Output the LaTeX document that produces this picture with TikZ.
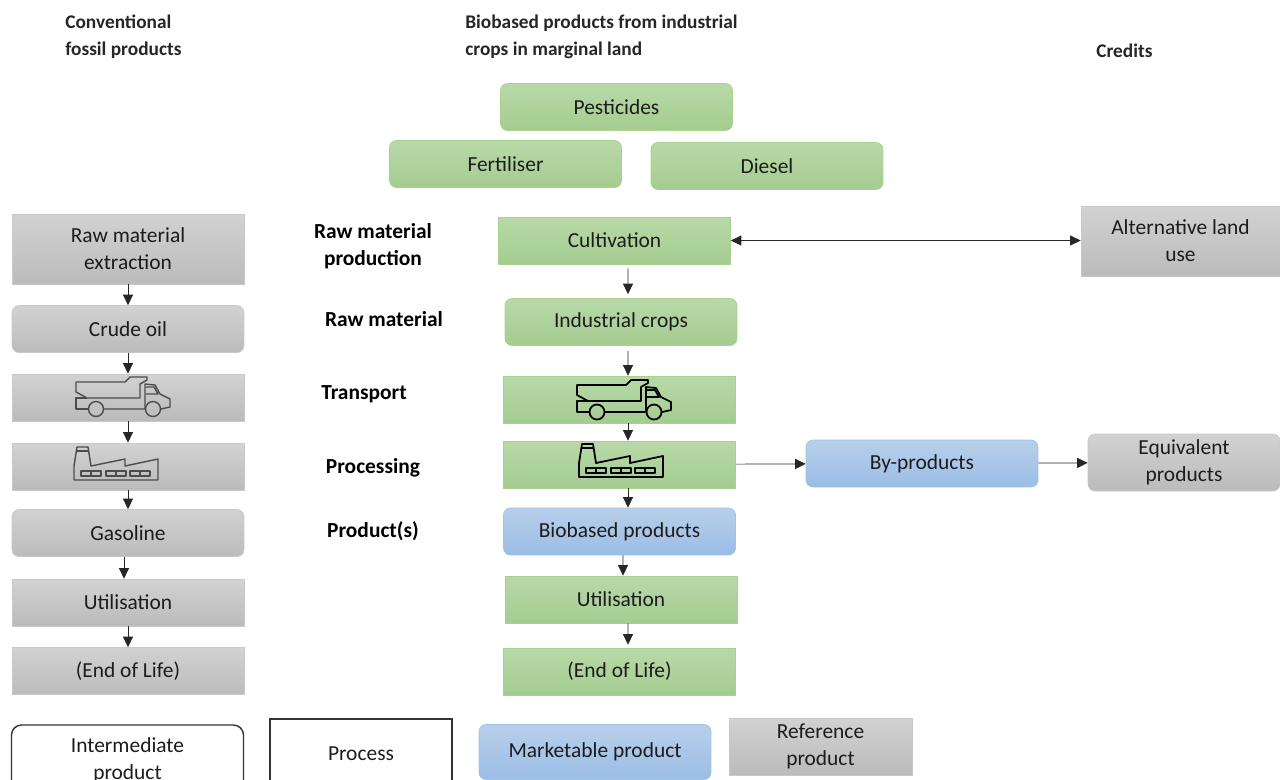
\documentclass[tikz,border=0pt]{standalone}
\usepackage{fontspec}
\setmainfont{Carlito}
\usetikzlibrary{arrows.meta}
\definecolor{greenTop}{HTML}{B8D9A8}
\definecolor{greenBottom}{HTML}{A4CC90}
\definecolor{greenLine}{HTML}{A9D18E}
\definecolor{greyTop}{HTML}{D2D2D2}
\definecolor{greyBottom}{HTML}{BBBBBB}
\definecolor{greyLine}{HTML}{C8C8C8}
\definecolor{blueTop}{HTML}{B8CFEA}
\definecolor{blueBottom}{HTML}{9BBDE6}
\definecolor{blueLine}{HTML}{9DC3E6}
\definecolor{textColor}{HTML}{1C1C1C}
\tikzstyle{diagram} = [x = .02cm, y = -.02cm]
\tikzstyle{stageBox} = [text=textColor, font=\fontsize{12.2}{15.5}\selectfont, align=center, inner sep=0pt, minimum width=4.64cm, minimum height=.94cm]
\tikzstyle{greenBox} = [stageBox, draw=greenLine, top color=greenTop, bottom color=greenBottom]
\tikzstyle{greenRound} = [greenBox, rounded corners=.14cm]
\tikzstyle{greyBox} = [stageBox, draw=greyLine, top color=greyTop, bottom color=greyBottom]
\tikzstyle{greyRound} = [greyBox, rounded corners=.14cm]
\tikzstyle{blueRound} = [stageBox, draw=blueLine, top color=blueTop, bottom color=blueBottom, rounded corners=.14cm]
\tikzstyle{plainBox} = [stageBox, draw=black!80, thick, fill=white]
\tikzstyle{stageLabel} = [text=black, font=\fontsize{12.2}{15.5}\selectfont\bfseries, align=center, inner sep=0pt]
\tikzstyle{headLabel} = [text=black!85, font=\fontsize{11}{15.5}\selectfont\bfseries\scshape, align=left, anchor=west, inner sep=0pt]
\tikzstyle{flowArrow} = [draw=black!85, -{Triangle[length=.21cm,width=.2cm]}]
\newcommand{\truckIcon}[4]{
  \begin{scope}[shift={(#1,#2)}, draw=#3, line width=#4, line join=round]
    \draw (0,5) -- (49,5) -- (54,0) -- (71,0) -- (71,3) -- (64,7) -- (64,21) -- (11,21) -- (0,15) -- cycle;
    \draw (11,21) -- (0,21) -- (0,32) -- (12,32);
    \draw (28,32) -- (69,32) -- (69,7) -- (79,8) -- (84,17) -- (94,22) -- (94,30) -- (85,32);
    \draw (70,10) -- (78,10) -- (82,17) -- (70,17);
    \draw (20,32) circle [radius=.15cm];
    \draw (77,32) circle [radius=.15cm];
  \end{scope}
}
\newcommand{\factoryIcon}[4]{
  \begin{scope}[shift={(#1,#2)}, draw=#3, line width=#4, line join=round]
    \draw (1,33) -- (1,19) -- (4,0) -- (15,0) -- (18,19) -- (52,12) -- (52,19) -- (85,12) -- (85,33) -- cycle;
    \draw (3.5,4) -- (15.5,4);
    \foreach \window in {8,33,57} {
      \draw (\window,24) rectangle +(20,5);
      \draw (\window + 10,24) -- +(0,5);
    }
  \end{scope}
}
\begin{document}
\begin{tikzpicture}[diagram]
    \clip (0,0) rectangle (1280,779);
    % headings
    \node [headLabel] (headFossil) at (65,37) {Conventional\\fossil products};
    \node [headLabel] (headBio) at (465,37) {Biobased products from industrial\\crops in marginal land};
    \node [headLabel] (headCredits) at (1096,51) {Credits};
    % fossil column
    \node [greyBox, minimum height=1.4cm] (fossilRaw) at (128,249) {Raw material\\extraction};
    \node [greyRound] (fossilCrude) at (128,329) {Crude oil};
    \node [greyBox] (fossilTruck) at (128,397.5) {};
    \node [greyBox] (fossilPlant) at (128,466.5) {};
    \node [greyRound] (fossilGasoline) at (128,533) {Gasoline};
    \node [greyBox] (fossilUse) at (128,602.5) {Utilisation};
    \node [greyBox] (fossilEnd) at (128,671) {(End of Life)};
    \truckIcon{76}{377}{black!70}{.8pt}
    \factoryIcon{73}{447}{black!70}{.8pt}
    % stage labels
    \node [stageLabel] (labelProduction) at (373,246) {Raw material\\production};
    \node [stageLabel] (labelRaw) at (384,319) {Raw material};
    \node [stageLabel] (labelTransport) at (364,394) {Transport};
    \node [stageLabel] (labelProcessing) at (373,468) {Processing};
    \node [stageLabel] (labelProduct) at (373,531) {Product(s)};
    % biobased column
    \node [greenRound] (pesticides) at (616.5,107) {Pesticides};
    \node [greenRound] (fertiliser) at (505.5,164) {Fertiliser};
    \node [greenRound] (diesel) at (767,166) {Diesel};
    \node [greenBox] (cultivation) at (614.5,240.5) {Cultivation};
    \node [greenRound] (crops) at (621,322) {Industrial crops};
    \node [greenBox] (bioTruck) at (619.5,399.5) {};
    \node [greenBox] (bioPlant) at (619.5,464.5) {};
    \node [blueRound] (bioProducts) at (619.5,531.5) {Biobased products};
    \node [greenBox] (bioUse) at (621,599.5) {Utilisation};
    \node [greenBox] (bioEnd) at (619.5,671.5) {(End of Life)};
    \truckIcon{577}{380}{black}{1pt}
    \factoryIcon{578}{444}{black}{1pt}
    % credits
    \node [greyBox, minimum width=3.98cm, minimum height=1.4cm] (altLand) at (1180.5,241) {Alternative land\\use};
    \node [blueRound] (byProducts) at (922,463.5) {By-products};
    \node [greyRound, minimum width=3.84cm, minimum height=1.14cm] (equivalent) at (1184,462.5) {Equivalent\\products};
    % legend
    \node [plainBox, rounded corners=.2cm, minimum height=1.4cm] (legendIntermediate) at (127.5,760) {\raisebox{0pt}{Intermediate}\\product};
    \node [plainBox, minimum width=3.64cm, minimum height=1.4cm] (legendProcess) at (361,754) {\raisebox{0pt}{Process}};
    \node [blueRound, minimum height=1.1cm] (legendMarketable) at (595,752) {Marketable product};
    \node [greyBox, minimum width=3.66cm, minimum height=1.14cm] (legendReference) at (820.5,746.5) {Reference\\product};
    % arrows
    \foreach \upper/\lower in {fossilRaw/fossilCrude, fossilCrude/fossilTruck, fossilTruck/fossilPlant, fossilPlant/fossilGasoline, fossilUse/fossilEnd} {
      \draw [flowArrow] (\upper) -- (\lower);
    }
    \draw [flowArrow] ([xshift=-.08cm]fossilGasoline.south) -- ([xshift=-.08cm]fossilUse.north);
    \draw [flowArrow, shorten <=.08cm, shorten >=.08cm] (cultivation.south -| bioPlant.south) ++(.17cm,0) -- ([xshift=.14cm]crops.north);
    \draw [flowArrow, shorten <=.1cm] ([xshift=.14cm]crops.south) -- ([xshift=.17cm]bioTruck.north);
    \draw [flowArrow] ([xshift=.17cm]bioTruck.south) -- ([xshift=.17cm]bioPlant.north);
    \draw [flowArrow] ([xshift=.17cm]bioPlant.south) -- ([xshift=.17cm]bioProducts.north);
    \draw [flowArrow] ([xshift=.07cm]bioProducts.south) -- ([xshift=.04cm]bioUse.north);
    \draw [flowArrow, shorten >=.06cm] ([xshift=.14cm]bioUse.south) -- ([xshift=.17cm]bioEnd.north);
    \draw [flowArrow, {Triangle[length=.21cm,width=.2cm]}-{Triangle[length=.21cm,width=.2cm]}] (cultivation) -- (cultivation -| altLand.west);
    \draw [flowArrow] (bioPlant) -- (byProducts);
    \draw [flowArrow] (byProducts) -- (equivalent);
\end{tikzpicture}
\end{document}
